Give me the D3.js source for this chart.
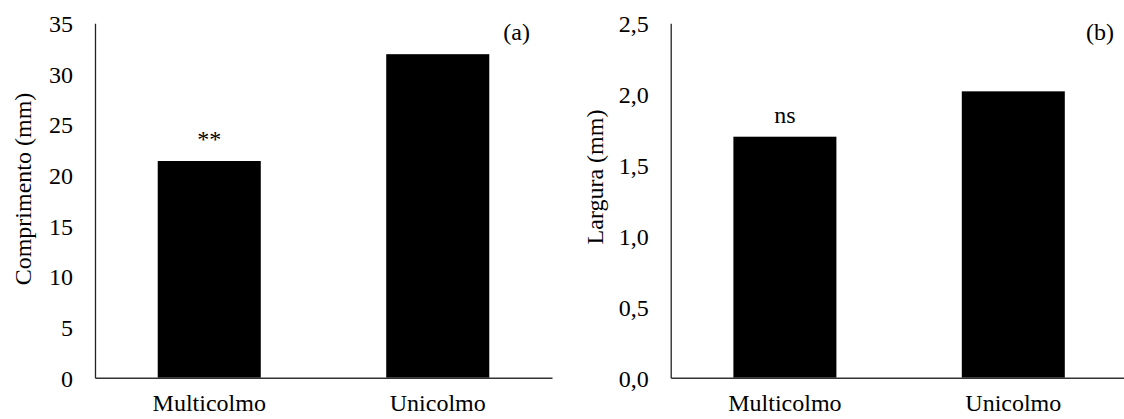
<!DOCTYPE html>
<html>
<head>
<meta charset="utf-8">
<script src="https://cdn.jsdelivr.net/npm/d3@7/dist/d3.min.js"></script>
<style>
  html, body { margin: 0; padding: 0; background: #fff; }
  svg { display: block; }
  text { font-family: "Liberation Serif", "Times New Roman", serif; fill: #000; }
</style>
</head>
<body>
<svg id="chart" width="1124" height="419"></svg>
<script>
// Leaf dimensions by tillering type
const categories = ["Multicolmo", "Unicolmo"];
const comprimento = [21.4, 31.95];   // mm
const largura = [1.70, 2.02];        // mm
const comprimentoTicks = [0, 5, 10, 15, 20, 25, 30, 35];
const larguraTicks = [0, 0.5, 1.0, 1.5, 2.0, 2.5];
const significance = ["**", "ns"];
const panelTags = ["(a)", "(b)"];
const yTitles = ["Comprimento (mm)", "Largura (mm)"];

const svg = d3.select("#chart");
const fmtComma = d => d.toFixed(1).replace(".", ",");

const panels = [
  { x0: 95, x1: 552, values: comprimento, max: 35, ticks: comprimentoTicks, fmt: d => String(d),
    title: yTitles[0], titleX: 31, titleY: 189, sig: significance[0], tag: panelTags[0], tagX: 530 },
  { x0: 670.7, x1: 1127.5, values: largura, max: 2.5, ticks: larguraTicks, fmt: fmtComma,
    title: yTitles[1], titleX: 603, titleY: 177, sig: significance[1], tag: panelTags[1], tagX: 1114 }
];

const yTop = 23.3, yBottom = 377.7;

panels.forEach(p => {
  const g = svg.append("g");
  const x = d3.scaleBand().domain(categories).range([p.x0, p.x1]).paddingInner(0.549).paddingOuter(0.2745);
  const y = d3.scaleLinear().domain([0, p.max]).range([yBottom, yTop]);

  // bars
  g.selectAll("rect.bar").data(p.values).enter().append("rect")
    .attr("class", "bar")
    .attr("x", (d, i) => x(categories[i]))
    .attr("width", x.bandwidth())
    .attr("y", d => y(d))
    .attr("height", d => yBottom - y(d))
    .attr("fill", "#000");

  // y axis (line only, no tick marks)
  const yAxis = d3.axisLeft(y).tickValues(p.ticks).tickFormat(p.fmt).tickSize(0).tickPadding(22);
  const ya = g.append("g").attr("transform", `translate(${p.x0},0)`).call(yAxis);
  ya.select(".domain").attr("stroke", "#222").attr("stroke-width", 1.3);
  ya.selectAll("text").attr("font-size", 24).attr("dy", "0.35em")
    .style("font-family", "'Liberation Serif', 'Times New Roman', serif").attr("fill", "#000");

  // x axis
  const xAxis = d3.axisBottom(x).tickSize(0).tickPadding(20);
  const xa = g.append("g").attr("transform", `translate(0,${yBottom})`).call(xAxis);
  xa.select(".domain").attr("stroke", "#333").attr("stroke-width", 1.6);
  xa.selectAll("text").attr("font-size", 24).attr("dy", "0.57em")
    .style("font-family", "'Liberation Serif', 'Times New Roman', serif").attr("fill", "#000");

  // y axis title
  g.append("text")
    .attr("transform", `translate(${p.titleX},${p.titleY}) rotate(-90)`)
    .attr("text-anchor", "middle")
    .attr("font-size", 24)
    .text(p.title);

  // significance label above first bar
  g.append("text")
    .attr("x", x(categories[0]) + x.bandwidth() / 2)
    .attr("y", y(p.values[0]) - 14)
    .attr("text-anchor", "middle")
    .attr("font-size", 24)
    .text(p.sig);

  // panel tag
  g.append("text")
    .attr("x", p.tagX)
    .attr("y", 40)
    .attr("text-anchor", "end")
    .attr("font-size", 24)
    .text(p.tag);
});
</script>
</body>
</html>
